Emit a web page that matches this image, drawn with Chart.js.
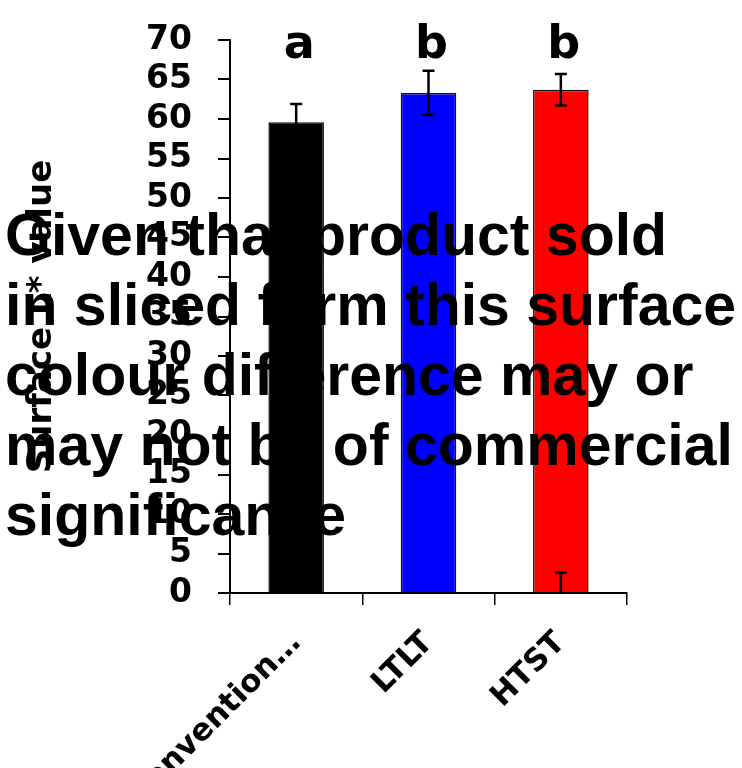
<!DOCTYPE html>
<html>
<head>
<meta charset="utf-8">
<script src="https://cdn.jsdelivr.net/npm/chart.js@4/dist/chart.umd.min.js"></script>
<style>
    html, body { margin: 0; padding: 0; background: #fff; }
    #wrap { position: relative; width: 742px; height: 768px; }
    #note {
        position: absolute; left: 5px; top: 200px;
        font: bold 59px "Liberation Sans", Arial, sans-serif;
        line-height: 70px; color: #000; white-space: nowrap;
    }
</style>
</head>
<body>
<div id="wrap">
    <canvas id="chart" width="742" height="768"></canvas>
    <div id="note">Given that product sold<br>in sliced form this surface<br>colour difference may or<br>may not be of commercial<br>significance</div>
</div>
<script>
const categories = ['convention…', 'LTLT', 'HTST'];
const meanValues = [59.6, 63.3, 63.7];
const errValues = [2.3, 2.8, 2.0];
const sigLetters = ['a', 'b', 'b'];
// stray error bar sitting at the foot of the HTST bar
const baseErrValues = [0, 0, 2.6];
const barColors = ['#000000', '#0000ff', '#ff0000'];
const yMin = 0, yMax = 70, yStep = 5;

const FONT = 'DejaVu Sans';

const errorBars = {
    id: 'errorBars',
    afterDatasetsDraw(chart) {
        const ctx = chart.ctx;
        const meta = chart.getDatasetMeta(0);
        const y = chart.scales.y;
        const cap = 6;
        ctx.save();
        ctx.strokeStyle = '#000';
        ctx.lineWidth = 2.5;
        meta.data.forEach((bar, i) => {
            const x = bar.x;
            const hi = y.getPixelForValue(meanValues[i] + errValues[i]);
            const lo = y.getPixelForValue(meanValues[i] - errValues[i]);
            ctx.beginPath();
            ctx.moveTo(x, hi); ctx.lineTo(x, lo);
            ctx.moveTo(x - cap, hi); ctx.lineTo(x + cap, hi);
            ctx.moveTo(x - cap, lo); ctx.lineTo(x + cap, lo);
            ctx.stroke();
            if (baseErrValues[i] > 0) {
                const top = y.getPixelForValue(baseErrValues[i]);
                const bot = y.getPixelForValue(0);
                ctx.beginPath();
                ctx.moveTo(x, top); ctx.lineTo(x, bot);
                ctx.moveTo(x - cap, top); ctx.lineTo(x + cap, top);
                ctx.stroke();
            }
            // significance letters above bars
            ctx.fillStyle = '#000';
            ctx.font = 'bold 46px "' + FONT + '"';
            ctx.textAlign = 'center';
            ctx.textBaseline = 'alphabetic';
            ctx.fillText(sigLetters[i], x + 3, y.getPixelForValue(67.7));
        });
        ctx.restore();
    }
};

const noPad = s => { s.paddingTop = 0; s.paddingBottom = 0; s.paddingLeft = 0; s.paddingRight = 0; };

new Chart(document.getElementById('chart'), {
    type: 'bar',
    data: {
        labels: categories,
        datasets: [{
            data: meanValues,
            backgroundColor: barColors,
            borderColor: '#111',
            borderWidth: 1.5,
            categoryPercentage: 1,
            barPercentage: 0.42
        }]
    },
    options: {
        responsive: false,
        animation: false,
        devicePixelRatio: 1,
        layout: { padding: { left: 22, top: 40, right: 115, bottom: 0 } },
        plugins: { legend: { display: false }, tooltip: { enabled: false } },
        scales: {
            x: {
                grid: { drawOnChartArea: false, color: '#000', lineWidth: 1.5, tickLength: 12, offset: true },
                border: { color: '#000', width: 2 },
                ticks: {
                    color: '#000', maxRotation: 45, minRotation: 45, padding: 20,
                    font: { family: FONT, weight: 'bold', size: 31 }
                },
                afterFit: s => { s.height = 175; noPad(s); }
            },
            y: {
                min: yMin, max: yMax,
                grid: { drawOnChartArea: false, color: '#000', lineWidth: 2, tickLength: 12 },
                border: { color: '#000', width: 2 },
                ticks: {
                    stepSize: yStep, autoSkip: false, color: '#000', padding: 26,
                    font: { family: FONT, weight: 'bold', size: 33 }
                },
                title: {
                    display: true, text: 'Surface L* value', color: '#000', padding: 0,
                    font: { family: FONT, weight: 'bold', size: 34 }
                },
                afterFit: s => { s.width = 208; noPad(s); }
            }
        }
    },
    plugins: [errorBars]
});
</script>
</body>
</html>
